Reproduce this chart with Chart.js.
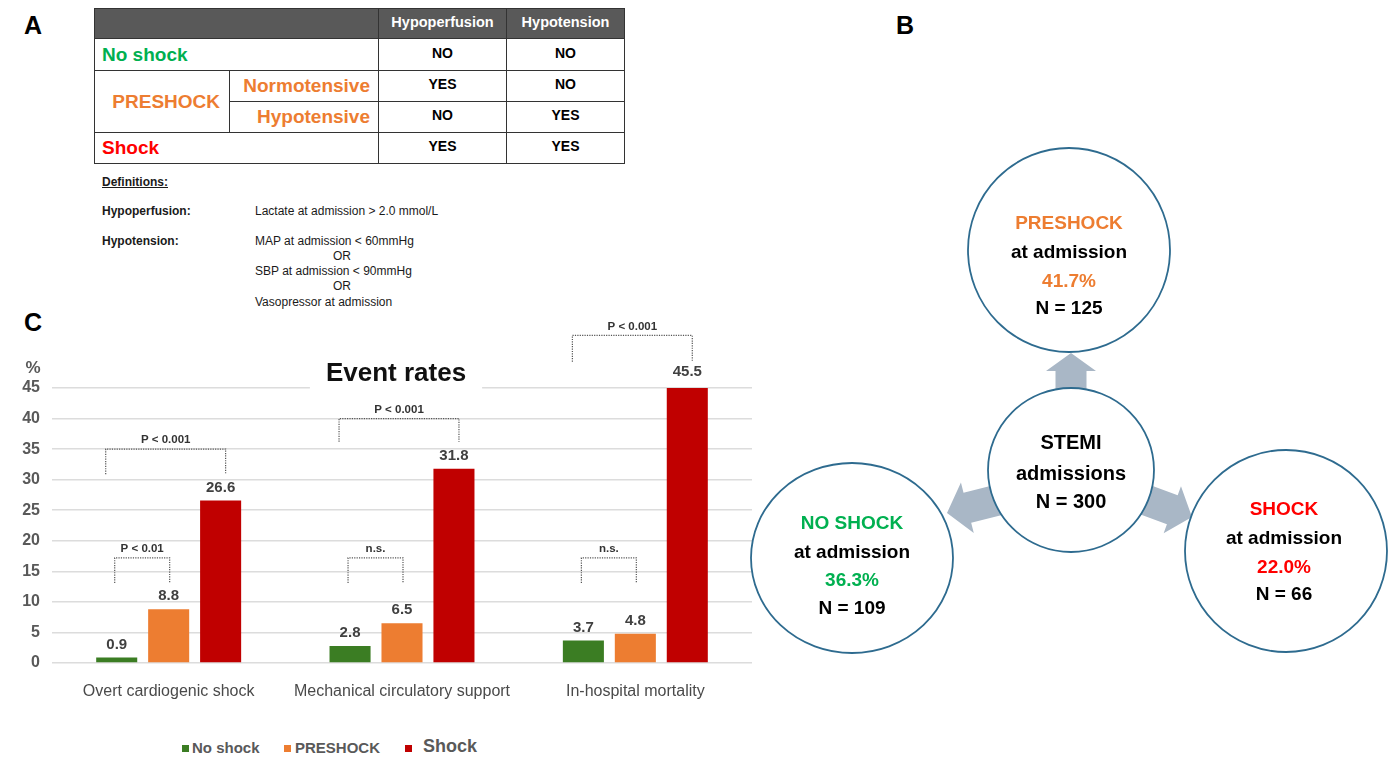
<!DOCTYPE html>
<html>
<head>
<meta charset="utf-8">
<script src="https://cdn.jsdelivr.net/npm/chart.js@4.4.1/dist/chart.umd.min.js"></script>
<style>
  html, body { margin:0; padding:0; background:#fff; }
  body { width:1390px; height:757px; position:relative; overflow:hidden; font-family:"Liberation Sans", Arial, sans-serif; }
  .abs { position:absolute; white-space:nowrap; }
  .plabel { font-weight:bold; font-size:25px; color:#000; line-height:30px; }
  table.def { position:absolute; left:94px; top:8px; border-collapse:collapse; table-layout:fixed; width:530px; }
  table.def td { border:1.5px solid #333; padding:0; font-weight:bold; overflow:hidden; vertical-align:middle; line-height:20px; }
  table.def tr.h td { background:#595959; color:#fff; font-size:14.5px; text-align:center; }
  td span.up { position:relative; top:-2px; }
  td.v { text-align:center; font-size:14px; color:#000; }
  td.lab { font-size:19px; }
  .defs { font-size:12px; color:#1a1a1a; line-height:15px; }
  .legend { position:absolute; top:736px; height:24px; font-weight:bold; color:#595959; white-space:nowrap; }
  .legend span.sq { position:absolute; width:7px; height:7px; }
</style>
</head>
<body>

<!-- Panel labels -->
<div class="abs plabel" style="left:24px;top:10px;">A</div>
<div class="abs plabel" style="left:896px;top:10px;">B</div>
<div class="abs plabel" style="left:24px;top:307px;">C</div>

<!-- Panel A table -->
<table class="def">
  <colgroup><col style="width:135px"><col style="width:149px"><col style="width:128px"><col style="width:118px"></colgroup>
  <tr class="h" style="height:30px"><td colspan="2"></td><td><span class="up">Hypoperfusion</span></td><td><span class="up">Hypotension</span></td></tr>
  <tr style="height:32px"><td colspan="2" class="lab" style="color:#00b050;padding-left:7px;">No shock</td><td class="v"><span class="up">NO</span></td><td class="v"><span class="up">NO</span></td></tr>
  <tr style="height:31px"><td rowspan="2" class="lab" style="color:#ed7d31;text-align:right;padding-right:9px;">PRESHOCK</td><td class="lab" style="color:#ed7d31;text-align:right;padding-right:8px;">Normotensive</td><td class="v"><span class="up">YES</span></td><td class="v"><span class="up">NO</span></td></tr>
  <tr style="height:31px"><td class="lab" style="color:#ed7d31;text-align:right;padding-right:8px;">Hypotensive</td><td class="v"><span class="up">NO</span></td><td class="v"><span class="up">YES</span></td></tr>
  <tr style="height:31px"><td colspan="2" class="lab" style="color:#ff0000;padding-left:7px;">Shock</td><td class="v"><span class="up">YES</span></td><td class="v"><span class="up">YES</span></td></tr>
</table>

<!-- Definitions -->
<div class="abs defs" style="left:102px;top:175px;font-weight:bold;text-decoration:underline;">Definitions:</div>
<div class="abs defs" style="left:102px;top:204px;font-weight:bold;">Hypoperfusion:</div>
<div class="abs defs" style="left:255px;top:204px;">Lactate at admission &gt; 2.0 mmol/L</div>
<div class="abs defs" style="left:102px;top:234px;font-weight:bold;">Hypotension:</div>
<div class="abs defs" style="left:255px;top:234px;">MAP at admission &lt; 60mmHg</div>
<div class="abs defs" style="left:333px;top:249px;">OR</div>
<div class="abs defs" style="left:255px;top:264px;">SBP at admission &lt; 90mmHg</div>
<div class="abs defs" style="left:333px;top:279px;">OR</div>
<div class="abs defs" style="left:255px;top:295px;">Vasopressor at admission</div>

<!-- Panel C chart -->
<div style="position:absolute;left:0;top:300px;width:760px;height:400px;">
  <canvas id="c" width="760" height="400" style="width:760px;height:400px;"></canvas>
</div>

<!-- Legend -->
<div class="legend" style="left:0;width:700px;">
  <span class="sq" style="left:182px;top:9px;background:#3b7d23;"></span>
  <span style="position:absolute;left:192px;top:3px;font-size:15px;">No shock</span>
  <span class="sq" style="left:284px;top:9px;background:#ed7d31;"></span>
  <span style="position:absolute;left:295px;top:3px;font-size:15px;">PRESHOCK</span>
  <span class="sq" style="left:405px;top:9px;background:#c00000;"></span>
  <span style="position:absolute;left:423px;top:0px;font-size:18px;">Shock</span>
</div>

<!-- Panel B flow diagram -->
<svg width="1390" height="757" style="position:absolute;left:0;top:0;" font-family="Liberation Sans, Arial, sans-serif" font-weight="bold">
  <g fill="#a9b7c6">
    <polygon transform="translate(1071,353) rotate(-90)" points="0,0 -18,-25 -18,-15.5 -60,-15.5 -60,15.5 -18,15.5 -18,25"/>
    <polygon transform="translate(947,513) rotate(165.7)" points="0,0 -21,-26 -21,-15.5 -70,-15.5 -70,15.5 -21,15.5 -21,26"/>
    <polygon transform="translate(1192,517) rotate(20.3)" points="0,0 -21,-25 -21,-15.5 -70,-15.5 -70,15.5 -21,15.5 -21,25"/>
  </g>
  <g fill="#fff" stroke="#2e6b8f" stroke-width="1.8">
    <ellipse cx="1069" cy="250" rx="101" ry="102"/>
    <ellipse cx="1071" cy="470" rx="83" ry="82"/>
    <ellipse cx="852" cy="558" rx="101" ry="95"/>
    <ellipse cx="1286" cy="551" rx="101" ry="101"/>
  </g>
  <g text-anchor="middle" dominant-baseline="central" font-size="19">
    <text x="1069" y="222" fill="#ed7d31">PRESHOCK</text>
    <text x="1069" y="251" fill="#000">at admission</text>
    <text x="1069" y="280" fill="#ed7d31">41.7%</text>
    <text x="1069" y="307" fill="#000">N = 125</text>

    <text x="1071" y="442" fill="#000" font-size="20">STEMI</text>
    <text x="1071" y="473" fill="#000" font-size="20">admissions</text>
    <text x="1071" y="501" fill="#000" font-size="20">N = 300</text>

    <text x="852" y="522" fill="#00b050">NO SHOCK</text>
    <text x="852" y="551" fill="#000">at admission</text>
    <text x="852" y="579" fill="#00b050">36.3%</text>
    <text x="852" y="607" fill="#000">N = 109</text>

    <text x="1284" y="508" fill="#ff0000">SHOCK</text>
    <text x="1284" y="537" fill="#000">at admission</text>
    <text x="1284" y="566" fill="#ff0000">22.0%</text>
    <text x="1284" y="593" fill="#000">N = 66</text>
  </g>
</svg>

<script>
// ---------- Data ----------
const categories = ['Overt cardiogenic shock', 'Mechanical circulatory support', 'In-hospital mortality'];
const seriesNames = ['No shock', 'PRESHOCK', 'Shock'];
const noShockRates = [0.9, 2.8, 3.7];
const preshockRates = [8.8, 6.5, 4.8];
const shockRates = [26.6, 31.8, 45.5];
const seriesColors = ['#3b7d23', '#ed7d31', '#c00000'];
const yMin = 0, yMax = 45, yStep = 5;
const chartTitle = 'Event rates';
const yUnit = '%';
// significance brackets per category: [No shock vs PRESHOCK, No shock vs Shock]
const smallBracketLabels = ['P < 0.01', 'n.s.', 'n.s.'];
const smallBracketTop = [17.2, 17.2, 17.2];
const smallBracketEnd = [13.1, 13.1, 13.1];
const bigBracketLabels = ['P < 0.001', 'P < 0.001', 'P < 0.001'];
const bigBracketTop = [35.0, 40.0, 53.6];
const bigBracketEnd = [30.9, 36.2, 49.3];

const FONT = '"Liberation Sans", Arial, sans-serif';

const overlayPlugin = {
  id: 'overlay',
  afterDatasetsDraw(chart) {
    const ctx = chart.ctx;
    const yS = chart.scales.y;
    ctx.save();
    // value labels
    ctx.font = 'bold 15px ' + FONT;
    ctx.fillStyle = '#404040';
    ctx.textAlign = 'center';
    ctx.textBaseline = 'middle';
    chart.data.datasets.forEach((ds, i) => {
      chart.getDatasetMeta(i).data.forEach((bar, j) => {
        ctx.fillText(ds.data[j].toFixed(1), bar.x, bar.y - 13);
      });
    });
    // brackets
    const g = chart.getDatasetMeta(0).data, o = chart.getDatasetMeta(1).data, r = chart.getDatasetMeta(2).data;
    const drawBracket = (x1, x2, top, end, label) => {
      const yt = yS.getPixelForValue(top), ye = yS.getPixelForValue(end);
      ctx.save();
      ctx.setLineDash([1.2, 1.2]);
      ctx.lineWidth = 1.2;
      ctx.strokeStyle = '#555';
      ctx.beginPath();
      ctx.moveTo(x1, ye); ctx.lineTo(x1, yt); ctx.lineTo(x2, yt); ctx.lineTo(x2, ye);
      ctx.stroke();
      ctx.restore();
      ctx.font = 'bold 11.5px ' + FONT;
      ctx.fillStyle = '#333';
      ctx.fillText(label, (x1 + x2) / 2, yt - 9);
    };
    categories.forEach((c, j) => {
      drawBracket(g[j].x - 2, o[j].x + 1, smallBracketTop[j], smallBracketEnd[j], smallBracketLabels[j]);
      drawBracket(g[j].x - 11, r[j].x + 5, bigBracketTop[j], bigBracketEnd[j], bigBracketLabels[j]);
    });
    ctx.restore();
  },
  afterDraw(chart) {
    const ctx = chart.ctx;
    const area = chart.chartArea;
    ctx.save();
    ctx.font = 'bold 26px ' + FONT;
    const w = ctx.measureText(chartTitle).width;
    const cx = (area.left + area.right) / 2 - 6;
    ctx.fillStyle = '#fff';
    ctx.fillRect(cx - w / 2 - 16, area.top - 32, w + 32, 36);
    ctx.fillStyle = '#111';
    ctx.textAlign = 'center';
    ctx.textBaseline = 'middle';
    ctx.fillText(chartTitle, cx, area.top - 14);
    // unit label
    ctx.font = 'bold 17px ' + FONT;
    ctx.fillStyle = '#595959';
    ctx.fillText(yUnit, 33, area.top - 20);
    ctx.restore();
  }
};

new Chart(document.getElementById('c'), {
  type: 'bar',
  data: {
    labels: categories,
    datasets: [
      { label: seriesNames[0], data: noShockRates, backgroundColor: seriesColors[0] },
      { label: seriesNames[1], data: preshockRates, backgroundColor: seriesColors[1] },
      { label: seriesNames[2], data: shockRates, backgroundColor: seriesColors[2] }
    ]
  },
  options: {
    responsive: false,
    animation: false,
    categoryPercentage: 0.668,
    barPercentage: 0.79,
    layout: { padding: { top: 88, right: 8, left: 0, bottom: 0 } },
    plugins: { legend: { display: false }, tooltip: { enabled: false }, title: { display: false } },
    scales: {
      x: {
        grid: { display: false },
        border: { display: false },
        ticks: { color: '#4a4a4a', font: { family: FONT, size: 16 }, padding: 11, maxRotation: 0, autoSkip: false },
        afterFit(s) { s.height = 37; }
      },
      y: {
        min: yMin, max: yMax,
        grid: { color: '#dcdcdc', lineWidth: 1.5, drawTicks: false },
        border: { display: false },
        ticks: { stepSize: yStep, color: '#595959', padding: 12, font: { family: FONT, size: 16, weight: 'bold' } },
        afterFit(s) { s.width = 52; }
      }
    }
  },
  plugins: [overlayPlugin]
});
</script>
</body>
</html>
